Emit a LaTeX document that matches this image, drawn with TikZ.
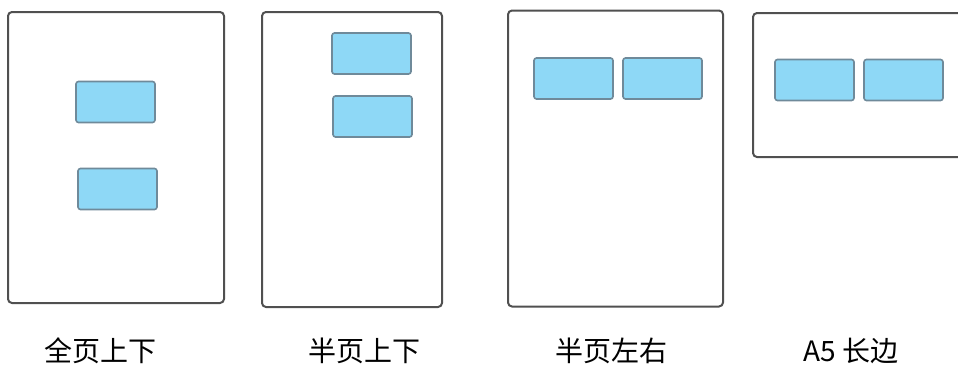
\documentclass[tikz,border=0pt]{standalone}
\usepackage{fontspec}
\setmainfont{Noto Sans CJK SC}
\definecolor{pageline}{HTML}{505050}
\definecolor{boxfill}{HTML}{8ED8F6}
\definecolor{boxline}{HTML}{6F8A9A}
\tikzset{
  page/.style={draw=pageline, line width=2pt, rounded corners=4pt, fill=white, inner sep=0pt},
  card/.style={draw=boxline, line width=1.6pt, rounded corners=2.5pt, fill=boxfill, inner sep=0pt, minimum width=79pt, minimum height=41pt},
  lbl/.style={font=\fontsize{28pt}{30pt}\selectfont, inner sep=0pt, anchor=center}
}
\begin{document}
\begin{tikzpicture}[x=1pt,y=-1pt]
\useasboundingbox (0,0) rectangle (958,367);
\clip (0,0) rectangle (958,367);
% pages
\node[page, minimum width=216pt, minimum height=291pt] (p1) at (116,157.5) {};
\node[page, minimum width=180pt, minimum height=295pt] (p2) at (352,159.5) {};
\node[page, minimum width=215pt, minimum height=296pt] (p3) at (615.5,158.5) {};
\node[page, minimum width=260pt, minimum height=144pt] (p4) at (883,85) {};
% cards
\node[card] (a1) at (115.5,102) {};
\node[card] (a2) at (117.5,189) {};
\node[card] (b1) at (371.5,53.5) {};
\node[card] (b2) at (372.5,116.5) {};
\node[card] (c1) at (573.5,78.5) {};
\node[card] (c2) at (662.5,78.5) {};
\node[card] (d1) at (814.5,80) {};
\node[card] (d2) at (903.5,80) {};
% labels
\node[lbl] (l1) at (100,351) {全页上下};
\node[lbl] (l2) at (364,351) {半页上下};
\node[lbl] (l3) at (611,351) {半页左右};
\node[lbl] (l4) at (851,351) {A5 长边};
\end{tikzpicture}
\end{document}
